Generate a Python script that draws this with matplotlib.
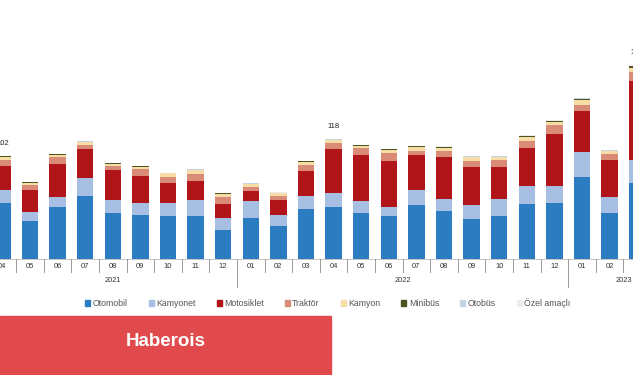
import matplotlib.pyplot as plt
from matplotlib.patches import Patch, Rectangle
from matplotlib.transforms import blended_transform_factory

# monthly registrations (thousand), 04/2021 - 03/2023
months = ['04', '05', '06', '07', '08', '09', '10', '11', '12',
          '01', '02', '03', '04', '05', '06', '07', '08', '09', '10', '11', '12',
          '01', '02', '03']
years = ['2021', '2022', '2023']
year_of_month = [0] * 9 + [1] * 12 + [2] * 3

otomobil = [55.5, 37.7, 51.2, 62.1, 45.3, 43.3, 42.4, 42.4, 28.6,
            40.4, 32.5, 49.0, 51.5, 45.6, 42.4, 53.2, 47.3, 39.1, 42.4, 54.2, 55.5,
            81.1, 45.6, 75.2]
kamyonet = [12.8, 8.6, 9.9, 17.7, 12.8, 11.5, 12.5, 15.8, 11.5,
            16.7, 10.5, 13.1, 13.1, 11.5, 9.2, 14.8, 11.8, 14.1, 16.7, 17.7, 16.5,
            24.0, 15.8, 22.4]
motosiklet = [23.0, 21.7, 32.8, 28.6, 29.6, 27.3, 20.4, 18.7, 14.1,
              10.1, 15.1, 24.9, 43.6, 45.3, 45.3, 34.5, 41.7, 37.7, 31.8, 37.7, 51.2,
              40.7, 36.2, 78.1]
traktor = [5.9, 4.6, 6.2, 3.9, 3.9, 6.9, 5.9, 6.9, 6.6,
           3.3, 3.9, 5.2, 5.6, 6.6, 7.9, 3.9, 5.6, 5.9, 6.6, 6.9, 8.9,
           5.6, 5.9, 8.6]
kamyon = [3.6, 2.7, 2.7, 2.7, 2.3, 2.0, 3.3, 3.9, 3.3,
          3.3, 2.7, 3.0, 3.3, 2.7, 2.7, 4.2, 3.3, 3.3, 2.7, 3.9, 3.0,
          5.2, 2.7, 4.2]
minibus = [0.5, 0.5, 0.5, 0.5, 0.5, 0.3, 0.3, 0.3, 0.5,
           0.5, 0.5, 0.9, 0.5, 0.5, 0.5, 0.3, 0.7, 0.6, 0.6, 0.7, 0.8,
           1.0, 0.6, 1.3]
otobus = [0.3, 0.3, 0.3, 0.3, 0.3, 0.2, 0.2, 0.2, 0.3,
          0.3, 0.3, 0.5, 0.3, 0.3, 0.3, 0.2, 0.4, 0.4, 0.4, 0.4, 0.5,
          0.6, 0.4, 0.8]
ozel = [0.2, 0.2, 0.2, 0.2, 0.2, 0.2, 0.1, 0.1, 0.2,
        0.2, 0.2, 0.3, 0.2, 0.2, 0.2, 0.2, 0.3, 0.3, 0.3, 0.3, 0.4,
        0.4, 0.3, 0.6]
labelled = [0, 12, 23]

series = [
    ('Otomobil', otomobil, '#2b7cc1'),
    ('Kamyonet', kamyonet, '#a8bfe4'),
    ('Motosiklet', motosiklet, '#b11419'),
    ('Traktör', traktor, '#da8b78'),
    ('Kamyon', kamyon, '#f7dca6'),
    ('Minibüs', minibus, '#4b5520'),
    ('Otobüs', otobus, '#c3d3e4'),
    ('Özel amaçlı', ozel, '#ececec'),
]

W, H = 633, 375
plt.rcParams['font.family'] = ['Liberation Sans', 'DejaVu Sans']
fig = plt.figure(figsize=(W / 100, H / 100), dpi=100)
base_px = 259
ax = fig.add_axes([0, (H - base_px) / H, 1, base_px / H])
px_per_unit = 1.015
step = 27.6

x = list(range(len(months)))
bottom = [0.0] * len(months)
for name, vals, color in series:
    ax.bar(x, vals, width=0.6, bottom=bottom, color=color, linewidth=0)
    bottom = [b + v for b, v in zip(bottom, vals)]

for i in labelled:
    ax.text(i, bottom[i] + 9, f'{bottom[i]:.0f}', ha='center', va='bottom',
            fontsize=5.5, color='#222222')

ax.set_xlim(-2.4 / step, (W - 2.4) / step)
ax.set_ylim(0, base_px / px_per_unit)
ax.axis('off')

# x axis: month labels, separators, year labels
tr = blended_transform_factory(ax.transData, ax.transAxes)
ax.plot([-1, len(months)], [0, 0], transform=tr, color='#bbbbbb', lw=0.6, clip_on=False)
for i, m in enumerate(months):
    ax.text(i, -8 / base_px, m, transform=tr, ha='center', va='center',
            fontsize=5.5, color='#333333')
    new_year = i + 1 < len(months) and year_of_month[i + 1] != year_of_month[i]
    low = -28 / base_px if new_year else -13 / base_px
    ax.plot([i + 0.5, i + 0.5], [0, low], transform=tr, color='#9a9a9a',
            lw=0.7, clip_on=False)
for k, yr in enumerate(years):
    idx = [i for i in x if year_of_month[i] == k]
    xc = (idx[0] + idx[-1]) / 2
    if k == len(years) - 1:
        xc += 0.5  # last year continues past the cropped edge
    ax.text(xc, -22 / base_px, yr, transform=tr, ha='center', va='center',
            fontsize=5.3, color='#333333')

handles = [Patch(color=c) for _, _, c in series]
names = [n for n, _, _ in series]
fig.legend(handles, names, loc='center', bbox_to_anchor=(328 / W, 1 - 303 / H),
           ncol=8, frameon=False, fontsize=6.3, handlelength=0.55,
           handleheight=0.55, handletextpad=0.3, columnspacing=2.4,
           labelcolor='#555555')

fig.patches.append(Rectangle((0, 0), 331 / W, 59 / H, transform=fig.transFigure,
                             color='#e04a4c', zorder=0))
fig.text(166 / W, 1 - 341.5 / H, 'Haberois', ha='center', va='center',
         color='white', fontsize=13.5, fontweight='bold')

fig.savefig('out.png', dpi=100)
